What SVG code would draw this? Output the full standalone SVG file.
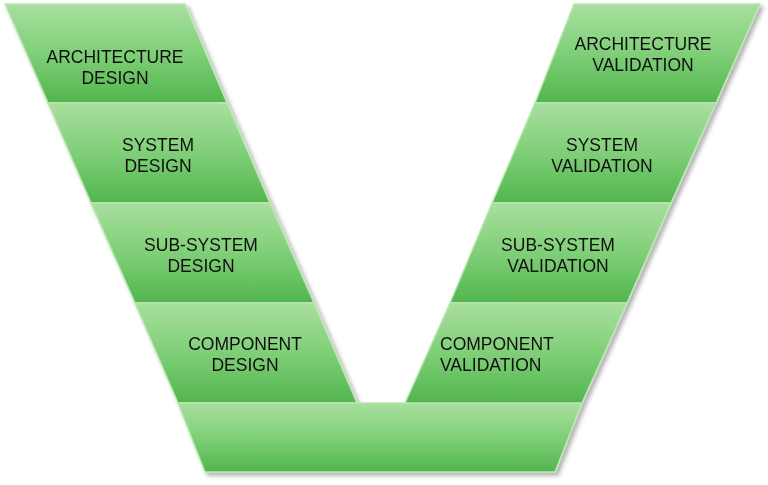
<svg xmlns="http://www.w3.org/2000/svg" width="768" height="485" viewBox="0 0 768 485">
<defs>
<linearGradient id="g" x1="0" y1="0" x2="0" y2="1">
<stop offset="0" stop-color="#a9df9f"/>
<stop offset="0.5" stop-color="#7fcf77"/>
<stop offset="1" stop-color="#52b54e"/>
</linearGradient>
<filter id="sh" x="-10%" y="-10%" width="130%" height="130%">
<feDropShadow dx="3" dy="3" stdDeviation="2" flood-color="#000" flood-opacity="0.3"/>
</filter>
</defs>
<style>
.b{fill:url(#g);stroke:#b9e8b0;stroke-width:1.5}
text{font-family:"Liberation Sans",Arial,sans-serif;font-size:17.5px;fill:#111}
.c{text-anchor:middle}
</style>
<g filter="url(#sh)">
<g id="arch-design"><polygon class="b" points="5,4 185,4 227,103 48,103"/><text class="c" x="115" y="63">ARCHITECTURE</text><text class="c" x="115" y="84">DESIGN</text></g>
<g id="system-design"><polygon class="b" points="48,103 227,103 270,203 91,203"/><text class="c" x="158" y="151">SYSTEM</text><text class="c" x="158" y="172">DESIGN</text></g>
<g id="subsystem-design"><polygon class="b" points="91,203 270,203 314,303 135,303"/><text class="c" x="201" y="251">SUB-SYSTEM</text><text class="c" x="201" y="272">DESIGN</text></g>
<g id="component-design"><polygon class="b" points="135,303 314,303 357,403 178,403"/><text class="c" x="245" y="350">COMPONENT</text><text class="c" x="245" y="371">DESIGN</text></g>
<g id="base"><polygon class="b" points="178,403 582,403 555,472 205,472"/></g>
<g id="arch-validation"><polygon class="b" points="574,4 760,4 716,103 535,103"/><text class="c" x="643" y="50">ARCHITECTURE</text><text class="c" x="643" y="71">VALIDATION</text></g>
<g id="system-validation"><polygon class="b" points="535,103 716,103 671,203 492,203"/><text class="c" x="602" y="151">SYSTEM</text><text class="c" x="602" y="172">VALIDATION</text></g>
<g id="subsystem-validation"><polygon class="b" points="492,203 671,203 627,303 450,303"/><text class="c" x="558" y="251">SUB-SYSTEM</text><text class="c" x="558" y="272">VALIDATION</text></g>
<g id="component-validation"><polygon class="b" points="450,303 627,303 582,403 405,403"/><text x="440" y="350">COMPONENT</text><text x="440" y="371">VALIDATION</text></g>
</g>
<g id="connectors"/>
</svg>
